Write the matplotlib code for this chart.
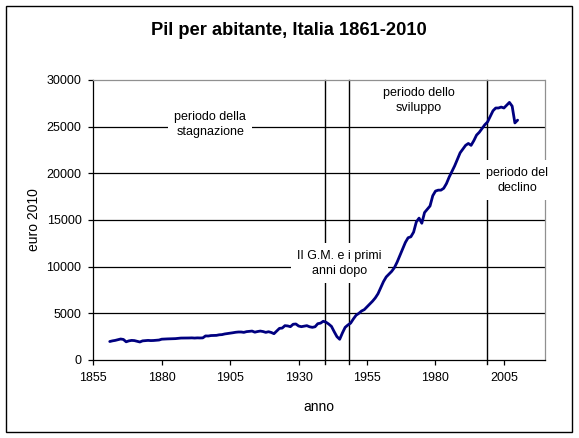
import matplotlib
matplotlib.use("Agg")
import matplotlib.pyplot as plt
from matplotlib.patches import Rectangle

plt.rcParams['font.family'] = ['Liberation Sans', 'DejaVu Sans']

# --- data -------------------------------------------------------------
years = list(range(1861, 2011))
pil = [
    1980, 2050, 2100, 2180, 2250, 2200, 1950, 2050, 2100, 2080,   # 1861-1870
    2000, 1930, 2050, 2070, 2100, 2080, 2090, 2120, 2140, 2230,   # 1871-1880
    2250, 2260, 2270, 2290, 2290, 2320, 2350, 2350, 2340, 2360,   # 1881-1890
    2370, 2350, 2370, 2360, 2370, 2580, 2570, 2620, 2630, 2640,   # 1891-1900
    2700, 2720, 2790, 2830, 2880, 2920, 2970, 3000, 3000, 2960,   # 1901-1910
    3040, 3070, 3100, 2980, 3050, 3100, 3050, 2960, 3030, 2950,   # 1911-1920
    2820, 3100, 3390, 3420, 3680, 3650, 3570, 3830, 3860, 3640,   # 1921-1930
    3570, 3620, 3680, 3560, 3500, 3560, 3890, 3950, 4150, 4050,   # 1931-1940
    3850, 3600, 3030, 2500, 2220, 2900, 3500, 3750, 3950, 4400,   # 1941-1950
    4800, 5000, 5250, 5400, 5700, 6000, 6300, 6650, 7100, 7750,   # 1951-1960
    8400, 8900, 9200, 9500, 9900, 10500, 11200, 11900, 12600, 13100,  # 1961-1970
    13200, 13700, 14800, 15200, 14650, 15800, 16150, 16500, 17600, 18100,  # 1971-1980
    18200, 18200, 18400, 18900, 19600, 20200, 20800, 21500, 22200, 22600,  # 1981-1990
    23000, 23200, 23000, 23500, 24100, 24400, 24800, 25200, 25500, 26100,  # 1991-2000
    26700, 27000, 27000, 27100, 27000, 27300, 27600, 27200, 25400, 25700,  # 2001-2010
]
period_lines = [1939.6, 1948.5, 1998.8]
x_ticks = [1855, 1880, 1905, 1930, 1955, 1980, 2005]
y_ticks = [0, 5000, 10000, 15000, 20000, 25000, 30000]

title = "Pil per abitante, Italia 1861-2010"
annotations = [
    ("periodo della\nstagnazione", 1897.7, 25250),
    ("periodo dello\nsviluppo", 1973.8, 27800),
    ("periodo del\ndeclino", 2009.8, 19250),
    ("II G.M. e i primi\nanni dopo", 1944.8, 10350),
]

# --- figure -------------------------------------------------------------
fig = plt.figure(figsize=(5.79, 4.38), dpi=100)
fig.patch.set_facecolor("white")
ax = fig.add_axes([93.3 / 579, 1 - 360 / 438, (545 - 93.3) / 579, 280 / 438])

ax.set_xlim(1855, 2020)
ax.set_ylim(0, 30000)

# horizontal gridlines
for yv in y_ticks[1:-1]:
    ax.axhline(yv, color="black", lw=0.9, zorder=1)

# period vertical lines
for xv in period_lines:
    ax.axvline(xv, ymin=-0.015, ymax=1, color="black", lw=1.0, zorder=1,
               clip_on=False)

ax.plot(years, pil, color="#000080", lw=2.0, zorder=6,
        solid_joinstyle="round", solid_capstyle="round")

for txt, xv, yv in annotations:
    ax.text(xv, yv, txt, ha="center", va="center", fontsize=9,
            linespacing=1.4, zorder=5, clip_on=False,
            bbox=dict(facecolor="white", edgecolor="none", pad=4.5))

ax.set_xticks(x_ticks)
ax.set_yticks(y_ticks)
ax.tick_params(axis="both", direction="out", length=3.5, width=0.9,
               labelsize=9, colors="black")
ax.tick_params(axis="x", pad=5)
ax.tick_params(axis="y", pad=5)

for side in ["left", "bottom"]:
    ax.spines[side].set_color("black")
    ax.spines[side].set_linewidth(0.9)
for side in ["top", "right"]:
    ax.spines[side].set_color("#909090")
    ax.spines[side].set_linewidth(0.9)
    ax.spines[side].set_linestyle((0, (1.5, 1)))
ax.spines["top"].set_zorder(7)

ax.set_xlabel("anno", fontsize=10, labelpad=12)
ax.set_ylabel("euro 2010", fontsize=10, labelpad=4)

fig.text(288.7 / 579, 1 - 30.7 / 438, title, ha="center", va="center",
         fontsize=13.2, fontweight="bold")

fig.patches.append(Rectangle((6 / 579, 6 / 438), 566 / 579, 426 / 438,
                             transform=fig.transFigure, fill=False,
                             edgecolor="black", lw=1.0))

fig.savefig("out.png", dpi=100, facecolor="white")
